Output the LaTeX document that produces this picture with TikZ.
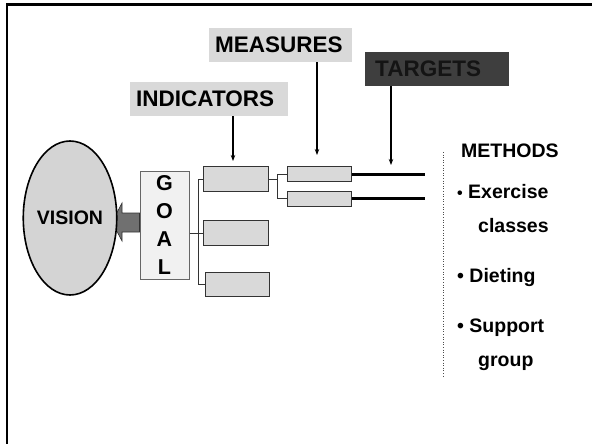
\documentclass[tikz,border=0pt]{standalone}
\usepackage{fontspec}
\setmainfont{Liberation Sans}
\usetikzlibrary{arrows.meta,shapes.geometric}

\definecolor{boxgray}{HTML}{D9D9D9}
\definecolor{ovalgray}{HTML}{D4D4D4}
\definecolor{goalfill}{HTML}{F1F1F1}
\definecolor{darklab}{HTML}{3E3E3E}
\definecolor{darktext}{HTML}{141414}
\definecolor{arrowgray}{HTML}{707070}
\definecolor{linegray}{HTML}{333333}

\tikzset{
  bigfont/.style={font=\fontsize{22.5}{27}\selectfont\bfseries},
  midfont/.style={font=\fontsize{19.5}{23}\selectfont\bfseries},
  labelbox/.style={fill=boxgray, inner sep=0pt, anchor=north west},
  darkbox/.style={fill=darklab, inner sep=0pt, anchor=north west},
  itembox/.style={draw=linegray, line width=1.1pt, fill=boxgray, inner sep=0pt, anchor=north west},
  conn/.style={draw=linegray, line width=0.8pt},
  pointer/.style={draw=black, line width=1.2pt, -{Stealth[length=6pt,width=4.5pt]}},
  target/.style={draw=black, line width=3pt},
  framepen/.style={draw=black, line width=2.2pt},
}

\begin{document}
\begin{tikzpicture}[x=1pt,y=-1pt]
\useasboundingbox (0,0) rectangle (592,444);

% outer frame (left and top edges)
\draw[framepen] (7,444) -- (7,4.5) -- (592,4.5);

% heading labels
\node[labelbox, minimum width=158pt, minimum height=34pt] (indlab) at (130,82) {};
\node[bigfont, anchor=west, inner sep=0pt] (indtxt) at ([xshift=6pt]indlab.west) {INDICATORS};
\node[labelbox, minimum width=143pt, minimum height=34pt] (meslab) at (209,28) {};
\node[bigfont, anchor=west, inner sep=0pt] (mestxt) at ([xshift=6pt]meslab.west) {MEASURES};
\node[darkbox, minimum width=144pt, minimum height=34pt] (tarlab) at (365,52) {};
\node[bigfont, text=darktext, anchor=west, inner sep=0pt] (tartxt) at ([xshift=10pt]tarlab.west) {TARGETS};

% goal box
\node[draw=black!60, line width=1pt, fill=goalfill, minimum width=49pt, minimum height=108pt,
      inner sep=0pt, align=center, font=\fontsize{21.5}{28}\selectfont\bfseries] (goal) at (164.5,225) {G\\O\\A\\L};

% big arrow from goal to vision
\filldraw[fill=arrowgray, draw=linegray, line width=0.6pt]
  (goal.west |- 0,213) -- (122,213) -- (122,203) -- (112,222) -- (122,241) -- (122,232) -- (goal.west |- 0,232) -- cycle;

% vision oval
\node[ellipse, draw=black, line width=1.6pt, fill=ovalgray, minimum width=90pt, minimum height=154pt,
      inner sep=0pt, midfont] (vision) at (70,218) {VISION};

% indicator boxes
\node[itembox, minimum width=65pt, minimum height=25pt] (i1) at (203,166) {};
\node[itembox, minimum width=65pt, minimum height=25pt] (i2) at (203,220) {};
\node[itembox, minimum width=64pt, minimum height=24pt] (i3) at (205,272) {};

% measure boxes
\node[itembox, minimum width=64pt, minimum height=15pt] (m1) at (287,166) {};
\node[itembox, minimum width=64pt, minimum height=15pt] (m2) at (287,190.5) {};

% bracket connectors
\coordinate (bx) at (198,0);
\coordinate (mx) at (277,0);
\draw[conn] (goal.east |- i2.west) -- (i2.west);
\draw[conn] (i1.west) -- (i1.west -| bx) -- (i3.west -| bx) -- (i3.west);
\draw[conn] (i1.east) -- (i1.east -| mx);
\draw[conn] (m1.west) -- (m1.west -| mx) -- (m2.west -| mx) -- (m2.west);

% target lines
\coordinate (t1) at (425,0);
\draw[target] (m1.east) -- (m1.east -| t1);
\draw[target] (m2.east) -- (m2.east -| t1);

% pointers from the headings
\coordinate (ia) at (233,161);
\coordinate (ma) at (317,155);
\coordinate (ta) at (391,165);
\draw[pointer] (indlab.south -| ia) -- (ia);
\draw[pointer] (meslab.south -| ma) -- (ma);
\draw[pointer] (tarlab.south -| ta) -- (ta);

% dotted divider
\coordinate (d1) at (443,152);
\coordinate (d2) at (443,377);
\draw[black!70, line width=0.6pt, dotted] (d1) -- (d2);

% methods list
\node[midfont, anchor=base west, inner sep=0pt] (meth) at (461,157) {METHODS};
\node[midfont, anchor=base west, inner sep=0pt] (ex1) at (457,198) {\fontsize{16}{16}\selectfont•\fontsize{19.5}{23}\selectfont\ Exercise};
\node[midfont, anchor=base west, inner sep=0pt] (ex2) at (478,232) {classes};
\node[midfont, anchor=base west, inner sep=0pt] (diet) at (457,282) {• Dieting};
\node[midfont, anchor=base west, inner sep=0pt] (sup1) at (457,332) {• Support};
\node[midfont, anchor=base west, inner sep=0pt] (sup2) at (478,366) {group};
\end{tikzpicture}
\end{document}
